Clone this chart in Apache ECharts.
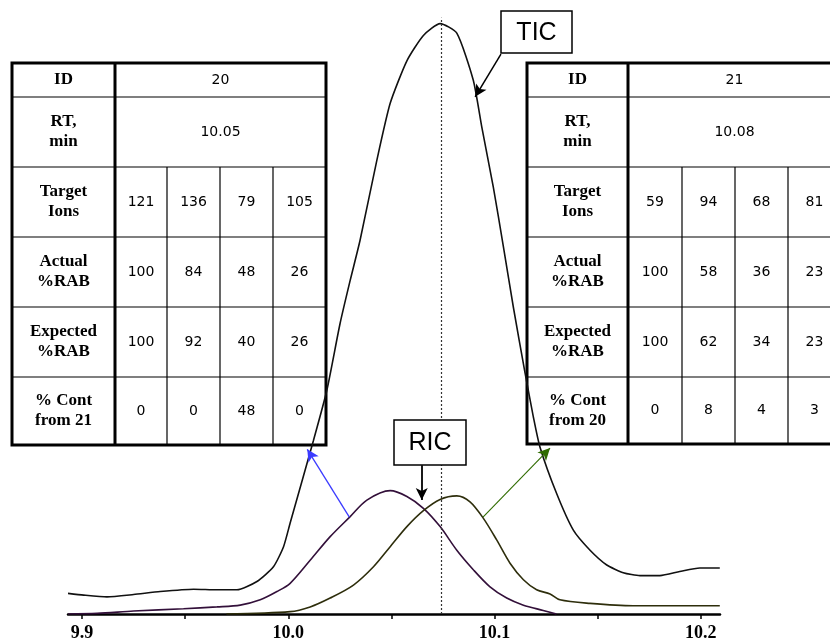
<!DOCTYPE html>
<html>
<head>
<meta charset="utf-8">
<script src="https://cdn.jsdelivr.net/npm/echarts@6/dist/echarts.min.js"></script>
<style>
  html, body { margin: 0; padding: 0; background: #fff; }
  #chart { width: 830px; height: 640px; }
</style>
</head>
<body>
<div id="chart"></div>
<script>
// Total ion chromatogram: retention time (min) and relative abundance
const ticRT = [9.8932, 9.9008, 9.9121, 9.925, 9.9379, 9.9541, 9.9654, 9.9751, 9.9848, 9.9928, 9.9977,
  10.0009, 10.0122, 10.0187, 10.0251, 10.0300, 10.0348, 10.0429, 10.0494, 10.0575, 10.0655, 10.0736,
  10.0817, 10.0897, 10.0938, 10.0994, 10.1043, 10.1091, 10.1148, 10.1188, 10.1220, 10.1301, 10.1382,
  10.1463, 10.1544, 10.1624, 10.1705, 10.1802, 10.1898, 10.1995, 10.2092];
const ticAbund = [3.5, 3.2, 2.9, 3.3, 3.8, 4.2, 4.1, 4.1, 5.5, 8.0, 11.4,
  15.4, 29.4, 37.9, 49.2, 56.5, 63.3, 76.8, 86.5, 93.7, 98.0, 100,
  98.4, 90.4, 82.5, 72.3, 62.2, 52.0, 40.8, 33.4, 28.3, 20.4, 14.2,
  10.8, 8.3, 7.0, 6.5, 6.5, 7.2, 7.8, 7.8];

// Reconstructed ion chromatogram of compound 20
const ric20RT = [9.8932, 9.9073, 9.925, 9.9492, 9.9654, 9.9767, 9.9864, 9.9945, 10.0009, 10.0106, 10.0203,
  10.0300, 10.0381, 10.0494, 10.0575, 10.0655, 10.0736, 10.0817, 10.0897, 10.0978, 10.1059, 10.1140,
  10.1236, 10.1300];
const ric20Abund = [0, 0.1, 0.5, 0.9, 1.2, 1.5, 2.4, 3.8, 5.2, 9.1, 13.1,
  16.5, 19.3, 20.9, 19.9, 17.9, 14.8, 10.8, 7.5, 4.6, 2.7, 1.5,
  0.6, 0];

// Reconstructed ion chromatogram of compound 21
const ric21RT = [9.97, 10.0009, 10.0106, 10.0203, 10.0316, 10.0413, 10.0494, 10.0575, 10.0655, 10.0736,
  10.0817, 10.0881, 10.0946, 10.1011, 10.1075, 10.1140, 10.1204, 10.1269, 10.1317, 10.1463, 10.1672, 10.2092];
const ric21Abund = [0, 0.4, 1.2, 2.7, 4.9, 8.0, 11.4, 14.8, 17.5, 19.4,
  20.0, 19.0, 16.2, 12.5, 8.6, 5.8, 4.1, 3.4, 2.4, 1.8, 1.4, 1.4];

// Apex of the TIC
const apexRT = 10.074;

// Axis ticks and labels
const tickValues = [9.9, 9.95, 10.0, 10.05, 10.1, 10.15, 10.2];
const labelValues = [9.9, 10.0, 10.1, 10.2];

// Deconvolution tables
const rowLabels20 = ['ID', 'RT,\nmin', 'Target\nIons', 'Actual\n%RAB', 'Expected\n%RAB', '% Cont\nfrom 21'];
const id20 = '20';
const rt20 = '10.05';
const ions20 = [121, 136, 79, 105];
const actual20 = [100, 84, 48, 26];
const expected20 = [100, 92, 40, 26];
const cont20 = [0, 0, 48, 0];

const rowLabels21 = ['ID', 'RT,\nmin', 'Target\nIons', 'Actual\n%RAB', 'Expected\n%RAB', '% Cont\nfrom 20'];
const id21 = '21';
const rt21 = '10.08';
const ions21 = [59, 94, 68, 81];
const actual21 = [100, 58, 36, 23];
const expected21 = [100, 62, 34, 23];
const cont21 = [0, 8, 4, 3];

const zip = (xs, ys) => xs.map((x, i) => [x, ys[i]]);

// Table layout (pixels)
const layout20 = { x: 12, y: 63, labelW: 103, colW: [52, 53, 53, 53], rowH: [34, 70, 70, 70, 70, 68] };
const layout21 = { x: 527, y: 63, labelW: 101, colW: [54, 53, 53, 53], rowH: [34, 70, 70, 70, 70, 67] };

function buildTable(lay, labels, id, rt, rows) {
  // xs: left edge, end of label column, then end of each value column
  const xs = [lay.x, lay.x + lay.labelW];
  lay.colW.forEach(w => xs.push(xs[xs.length - 1] + w));
  const ys = [lay.y];
  lay.rowH.forEach(h => ys.push(ys[ys.length - 1] + h));
  const x0 = xs[0], x1 = xs[xs.length - 1], y0 = ys[0], y1 = ys[ys.length - 1];
  const els = [];
  const thin = 1.2, thick = 3;
  els.push({ type: 'rect', z: 0, shape: { x: x0, y: y0, width: x1 - x0, height: y1 - y0 },
    style: { fill: '#fff', stroke: null } });
  for (let i = 1; i < ys.length - 1; i++) {
    els.push({ type: 'line', z: 1, shape: { x1: x0, y1: ys[i], x2: x1, y2: ys[i] },
      style: { stroke: '#000', lineWidth: thin } });
  }
  for (let j = 2; j < xs.length - 1; j++) {
    els.push({ type: 'line', z: 1, shape: { x1: xs[j], y1: ys[2], x2: xs[j], y2: y1 },
      style: { stroke: '#000', lineWidth: thin } });
  }
  els.push({ type: 'line', z: 1, shape: { x1: xs[1], y1: y0, x2: xs[1], y2: y1 },
    style: { stroke: '#000', lineWidth: thick } });
  els.push({ type: 'rect', z: 1, shape: { x: x0, y: y0, width: x1 - x0, height: y1 - y0 },
    style: { fill: null, stroke: '#000', lineWidth: thick } });

  const labelStyle = { fontFamily: '"Liberation Serif", serif', fontWeight: 'bold', fontSize: 17,
    lineHeight: 20, fill: '#000', align: 'center', verticalAlign: 'middle' };
  const valueStyle = { fontFamily: '"DejaVu Sans", sans-serif', fontSize: 14,
    fill: '#000', align: 'center', verticalAlign: 'middle' };
  labels.forEach((t, i) => {
    els.push({ type: 'text', z: 1, style: Object.assign({ text: t, x: (xs[0] + xs[1]) / 2,
      y: (ys[i] + ys[i + 1]) / 2 }, labelStyle) });
  });
  const mergedX = (xs[1] + x1) / 2;
  els.push({ type: 'text', z: 1, style: Object.assign({ text: id, x: mergedX, y: (ys[0] + ys[1]) / 2 }, valueStyle) });
  els.push({ type: 'text', z: 1, style: Object.assign({ text: rt, x: mergedX, y: (ys[1] + ys[2]) / 2 }, valueStyle) });
  rows.forEach((vals, r) => {
    vals.forEach((v, c) => {
      els.push({ type: 'text', z: 1, style: Object.assign({ text: String(v),
        x: (xs[c + 1] + xs[c + 2]) / 2, y: (ys[r + 2] + ys[r + 3]) / 2 }, valueStyle) });
    });
  });
  return els;
}

function calloutBox(x, y, w, h, text) {
  return [
    { type: 'rect', z: 100, shape: { x: x, y: y, width: w, height: h },
      style: { fill: '#fff', stroke: '#000', lineWidth: 1.5 } },
    { type: 'text', z: 101, style: { text: text, x: x + w / 2, y: y + h / 2 + 1,
      fontFamily: '"Liberation Sans", Arial, sans-serif', fontSize: 25, fill: '#000',
      align: 'center', verticalAlign: 'middle' } }
  ];
}

const arrowEnd = (rt, ab) => ({ coord: [rt, ab], symbol: 'arrow', symbolSize: [9, 12] });
const arrowStart = (rt, ab, color, width) => ({ coord: [rt, ab], symbol: 'none',
  lineStyle: { color: color, width: width, type: 'solid' } });

const chart = echarts.init(document.getElementById('chart'), null, { renderer: 'canvas' });
chart.setOption({
  animation: false,
  backgroundColor: '#fff',
  grid: { left: 68, right: 110, top: 0, bottom: 26, containLabel: false, outerBoundsMode: 'none' },
  xAxis: {
    type: 'value',
    min: 9.8932,
    max: 10.2093,
    splitLine: { show: false },
    axisLine: { onZero: false, lineStyle: { color: '#000', width: 2.5 } },
    axisTick: { show: true, length: 5, customValues: tickValues, lineStyle: { color: '#000', width: 1.5 } },
    axisLabel: {
      customValues: labelValues,
      formatter: v => v.toFixed(1),
      margin: 10,
      color: '#000',
      fontFamily: '"Liberation Serif", serif',
      fontWeight: 'bold',
      fontSize: 18
    }
  },
  yAxis: { type: 'value', min: 0, max: 104, show: false, splitLine: { show: false } },
  series: [
    {
      name: 'TIC',
      type: 'line',
      data: zip(ticRT, ticAbund),
      showSymbol: false,
      smooth: 0.2,
      z: 3,
      lineStyle: { color: '#111', width: 1.6 },
      markLine: {
        silent: true,
        animation: false,
        label: { show: false },
        emphasis: { disabled: true },
        data: [
          [ { coord: [apexRT, 0], symbol: 'none', lineStyle: { color: '#333', width: 1.2, type: [2, 2] } },
            { coord: [apexRT, 101], symbol: 'none' } ],
          [ arrowStart(10.1031, 94.85, '#000', 1.5), arrowEnd(10.0906, 87.6) ],
          [ arrowStart(10.0647, 25.2, '#000', 1.8), arrowEnd(10.0647, 19.3) ],
          [ arrowStart(10.0296, 16.4, '#3b3bff', 1.3), arrowEnd(10.0092, 27.9) ],
          [ arrowStart(10.0944, 16.4, '#2f6b00', 1.1), arrowEnd(10.1269, 28.1) ]
        ]
      }
    },
    {
      name: 'RIC 20',
      type: 'line',
      data: zip(ric20RT, ric20Abund),
      showSymbol: false,
      smooth: 0.3,
      z: 3,
      lineStyle: { color: '#33103a', width: 1.6 }
    },
    {
      name: 'RIC 21',
      type: 'line',
      data: zip(ric21RT, ric21Abund),
      showSymbol: false,
      smooth: 0.3,
      z: 3,
      lineStyle: { color: '#2e2e0c', width: 1.6 }
    }
  ],
  graphic: [].concat(
    buildTable(layout20, rowLabels20, id20, rt20, [ions20, actual20, expected20, cont20]),
    buildTable(layout21, rowLabels21, id21, rt21, [ions21, actual21, expected21, cont21]),
    calloutBox(501, 11, 71, 42, 'TIC'),
    calloutBox(394, 420, 72, 45, 'RIC')
  )
});
</script>
</body>
</html>
